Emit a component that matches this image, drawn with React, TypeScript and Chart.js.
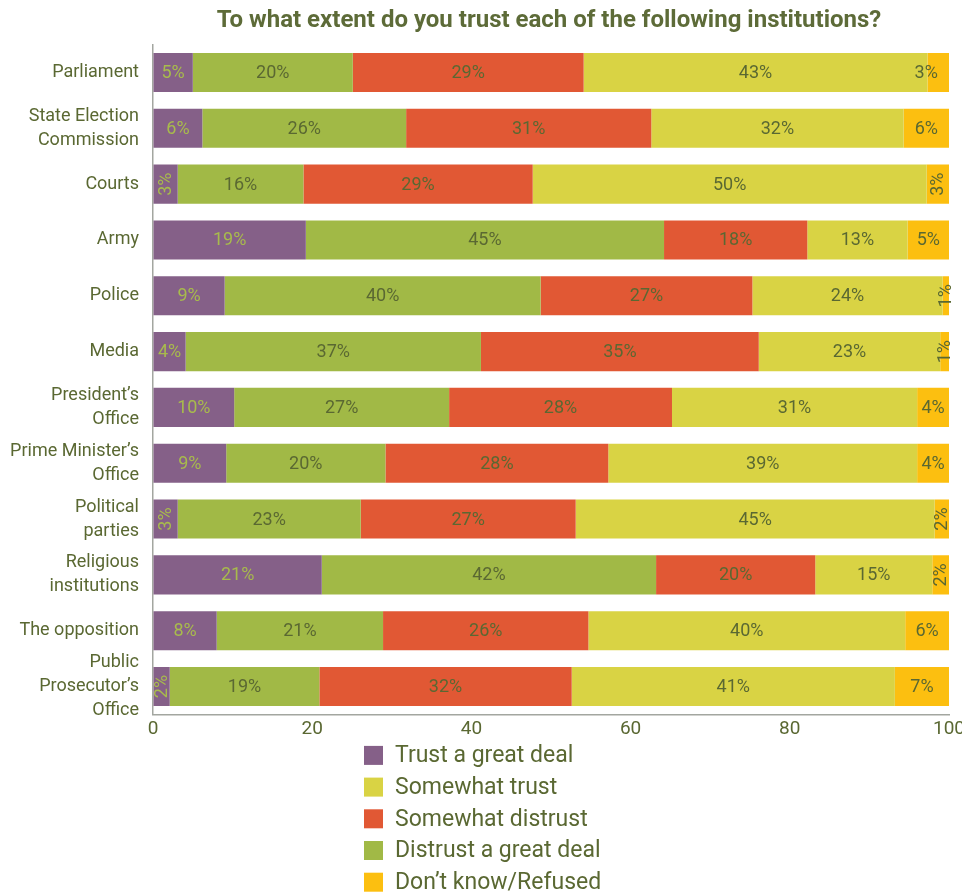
import React, { useEffect, useRef } from 'react';
import { Chart, registerables } from 'chart.js';

Chart.register(...registerables);

const TITLE = 'To what extent do you trust each of the following institutions?';

const CATEGORIES: (string | string[])[] = [
  'Parliament',
  ['State Election', 'Commission'],
  'Courts',
  'Army',
  'Police',
  'Media',
  ['President\u2019s', 'Office'],
  ['Prime Minister\u2019s', 'Office'],
  ['Political', 'parties'],
  ['Religious', 'institutions'],
  'The opposition',
  ['Public', 'Prosecutor\u2019s', 'Office'],
];

const TRUST_GREAT = [5.0, 6.2, 3.1, 19.2, 9.0, 4.1, 10.2, 9.2, 3.1, 21.2, 8.0, 2.1];
const DISTRUST_GREAT = [20.1, 25.6, 15.8, 45.0, 39.7, 37.1, 27.0, 20.0, 23.0, 42.0, 20.9, 18.8];
const SOMEWHAT_DISTRUST = [29.0, 30.8, 28.8, 18.0, 26.6, 34.9, 28.0, 28.0, 27.0, 20.0, 25.8, 31.7];
const SOMEWHAT_TRUST = [43.2, 31.7, 49.5, 12.6, 23.9, 22.8, 30.8, 38.8, 45.1, 14.7, 39.8, 40.6];
const DONT_KNOW = [2.7, 5.7, 2.8, 5.2, 0.8, 1.1, 4.0, 4.0, 1.8, 2.1, 5.5, 6.8];

const X_TICKS = [0, 20, 40, 60, 80, 100];

const SERIES_NAMES = [
  'Trust a great deal',
  'Distrust a great deal',
  'Somewhat distrust',
  'Somewhat trust',
  'Don\u2019t know/Refused',
];
const LEGEND_ORDER = [
  'Trust a great deal',
  'Somewhat trust',
  'Somewhat distrust',
  'Distrust a great deal',
  'Don\u2019t know/Refused',
];

const COLORS = ['#856088', '#a1b946', '#e15834', '#d9d344', '#fcbf10'];
const TEXT = '#5a6832';
const FONT = 'Roboto, "Liberation Sans", sans-serif';

export default function App() {
  const ref = useRef<HTMLCanvasElement | null>(null);

  useEffect(() => {
    document.body.style.margin = '0';
    const canvas = ref.current;
    if (!canvas) return;
    const seriesValues = [TRUST_GREAT, DISTRUST_GREAT, SOMEWHAT_DISTRUST, SOMEWHAT_TRUST, DONT_KNOW];

    const overlay = {
      id: 'overlay',
      afterDatasetsDraw(chart: any) {
        const ctx = chart.ctx;
        ctx.save();
        ctx.font = `18px ${FONT}`;
        ctx.textAlign = 'center';
        ctx.textBaseline = 'middle';
        chart.data.datasets.forEach((ds: any, di: number) => {
          const meta = chart.getDatasetMeta(di);
          meta.data.forEach((el: any, i: number) => {
            const v = ds.data[i];
            const txt = Math.round(v) + '%';
            const cx = (el.x + el.base) / 2;
            const cy = el.y;
            ctx.fillStyle = di === 0 ? '#a8bb4c' : TEXT;
            const upright = di === 4 && i === 0;
            if (v < 3.5 && !upright) {
              ctx.save();
              ctx.translate(cx, cy);
              ctx.rotate(-Math.PI / 2);
              ctx.fillText(txt, 0, 1);
              ctx.restore();
            } else {
              ctx.fillText(txt, upright ? cx - 12 : cx, cy + 1);
            }
          });
        });
        ctx.restore();
      },
      afterDraw(chart: any) {
        const ctx = chart.ctx;
        const area = chart.chartArea;
        ctx.save();
        // title
        ctx.font = `bold 24px ${FONT}`;
        ctx.fillStyle = '#5d6b38';
        ctx.textAlign = 'center';
        ctx.textBaseline = 'middle';
        ctx.fillText(TITLE, (area.left + area.right) / 2 - 2, 21);
        // legend
        ctx.font = `23px ${FONT}`;
        ctx.textAlign = 'left';
        LEGEND_ORDER.forEach((name, k) => {
          const di = chart.data.datasets.findIndex((d: any) => d.label === name);
          const col = chart.data.datasets[di].backgroundColor;
          const cy = area.bottom + 41 + k * 31.7;
          ctx.fillStyle = col;
          ctx.fillRect(364, cy - 9.5, 19, 19);
          ctx.fillStyle = TEXT;
          ctx.fillText(name, 395, cy + 1);
        });
        ctx.restore();
      },
    };

    const chart = new Chart(canvas, {
      type: 'bar',
      data: {
        labels: CATEGORIES as any,
        datasets: SERIES_NAMES.map((name, i) => ({
          label: name,
          data: seriesValues[i],
          backgroundColor: COLORS[i],
          borderWidth: 0,
          barPercentage: 0.7,
          categoryPercentage: 1,
        })),
      },
      options: {
        indexAxis: 'y',
        animation: false,
        responsive: true,
        maintainAspectRatio: false,
        layout: { padding: { top: 44.6, left: 0, right: 13, bottom: 149.6 } },
        plugins: {
          legend: { display: false },
          title: { display: false },
          tooltip: { enabled: false },
        },
        scales: {
          x: {
            stacked: true,
            min: 0,
            max: 100,
            afterBuildTicks: (scale: any) => {
              scale.ticks = X_TICKS.map((v) => ({ value: v }));
            },
            afterFit: (scale: any) => {
              scale.height = 30;
              scale.paddingLeft = 0;
              scale.paddingRight = 0;
            },
            grid: { color: 'rgba(0,0,0,0)', drawTicks: false },
            border: { color: '#a3a6a0', width: 1.5 },
            ticks: {
              padding: 3,
              color: TEXT,
              font: { family: FONT, size: 19 },
              maxRotation: 0,
            },
          },
          y: {
            stacked: true,
            afterFit: (scale: any) => {
              scale.width = 153;
              scale.paddingTop = 0;
              scale.paddingBottom = 0;
            },
            grid: { color: 'rgba(0,0,0,0)', drawTicks: false },
            border: { color: '#a3a6a0', width: 1.5 },
            ticks: {
              padding: 14,
              color: TEXT,
              font: { family: FONT, size: 18, lineHeight: 1.333 },
              autoSkip: false,
            },
          },
        },
      },
      plugins: [overlay],
    });
    return () => chart.destroy();
  }, []);

  return (
    <div style={{ width: 962, height: 894, position: 'relative', overflow: 'hidden' }}>
      <canvas ref={ref} />
    </div>
  );
}
